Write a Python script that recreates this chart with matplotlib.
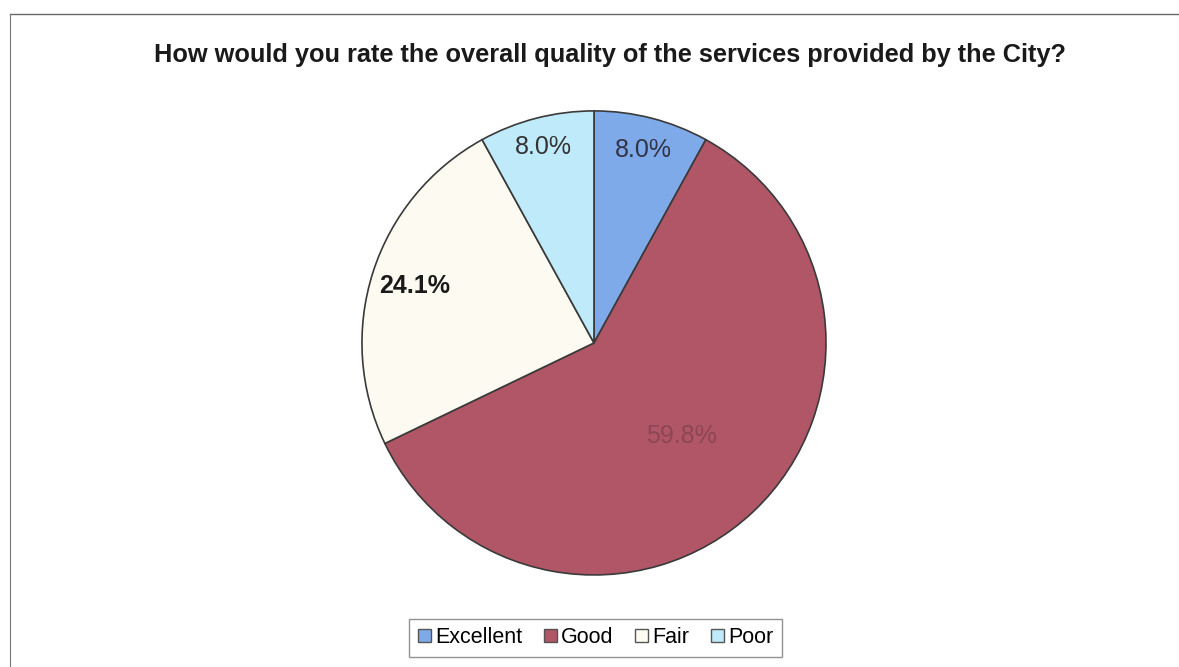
import matplotlib.pyplot as plt
import numpy as np
from matplotlib.lines import Line2D

plt.rcParams['font.family'] = ['Liberation Sans', 'DejaVu Sans']

categories = ["Excellent", "Good", "Fair", "Poor"]
values = [8.0, 59.8, 24.1, 8.0]
labels = ["8.0%", "59.8%", "24.1%", "8.0%"]
colors = ["#7eaaea", "#b05666", "#fdfbf1", "#bfeaf9"]
label_colors = ["#333344", "#8c4654", "#1a1a1a", "#333333"]
label_dist = [0.86, 0.55, 0.81, 0.87]
label_weight = ["normal", "normal", "bold", "normal"]

fig = plt.figure(figsize=(11.79, 6.67), dpi=100)
ax = fig.add_axes([0.307, 0.138, 0.3936, 0.6957])

wedges, _ = ax.pie(values, colors=colors, startangle=90, counterclock=False,
                   wedgeprops=dict(edgecolor="#3a3a3a", linewidth=1.2))
ax.set_aspect("equal")
ax.set_xlim(-1, 1)
ax.set_ylim(-1, 1)

for w, lab, d, c, fw in zip(wedges, labels, label_dist, label_colors, label_weight):
    mid = np.deg2rad((w.theta1 + w.theta2) / 2)
    ax.text(d * np.cos(mid), d * np.sin(mid), lab, ha="center", va="center",
            fontsize=18, color=c, fontweight=fw)

fig.text(0.517, 0.918, "How would you rate the overall quality of the services provided by the City?",
         ha="center", va="center", fontsize=18.3, fontweight="bold", color="#1a1a1a")

handles = [plt.Rectangle((0, 0), 1, 1, facecolor=c, edgecolor="#555555", linewidth=1) for c in colors]
leg = fig.legend(handles, categories, loc="center", bbox_to_anchor=(0.505, 0.044),
                 ncol=4, fontsize=15.5, frameon=True, fancybox=False, handlelength=0.6,
                 handleheight=0.6, handletextpad=0.2, columnspacing=1.0, borderpad=0.4)
leg.get_frame().set_edgecolor("#777777")
leg.get_frame().set_linewidth(1.0)

# scanned page frame lines
fig.add_artist(Line2D([0.0085, 1.0], [0.979, 0.979], color="#666666", linewidth=1.0))
fig.add_artist(Line2D([0.0085, 0.0085], [0.0, 0.979], color="#777777", linewidth=0.8))

fig.savefig("out.png", dpi=100, facecolor="white")
